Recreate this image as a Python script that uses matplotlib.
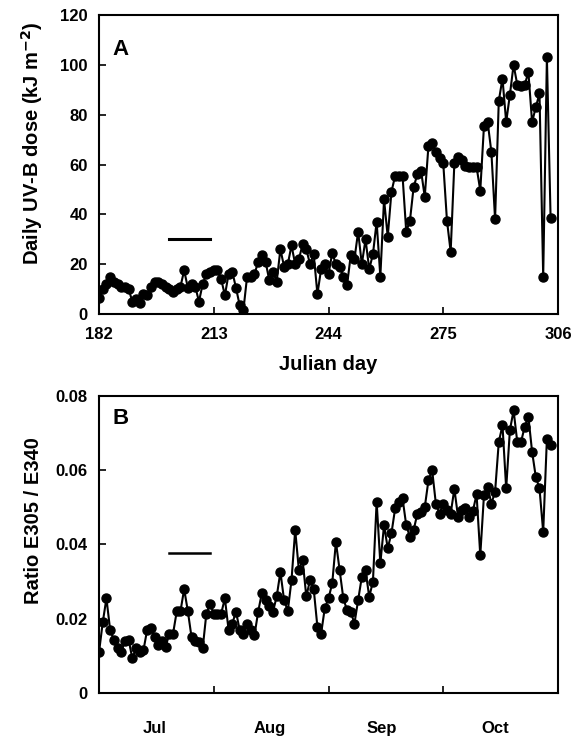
import numpy as np
import matplotlib
matplotlib.use('Agg')
import matplotlib.pyplot as plt

plt.rcParams['font.family'] = ['Liberation Sans', 'DejaVu Sans']
plt.rcParams['font.weight'] = 'bold'

# julian days 182..304
days = np.arange(182, 305)

uvb_dose = [
    6.5, 10, 12, 15, 13, 12, 11, 11, 10, 5,
    6, 4.5, 8, 7.5, 11, 13, 13, 12, 11, 10,
    9, 10, 11, 17.5, 10.5, 12, 11, 5, 12, 16,
    17, 17.5, 17.5, 14, 7.5, 16, 17, 10.5, 3.5, 1.5,
    15, 15, 16, 21, 23.5, 21, 13.5, 17, 13, 26,
    19, 20, 27.5, 20, 22, 28, 26, 20, 24, 8,
    18, 20, 16, 24.5, 20, 19, 15, 11.5, 23.5, 22,
    33, 20, 30, 18, 24, 37, 15, 46, 31, 49,
    55.5, 55.5, 55.5, 33, 37.5, 51, 56, 57.5, 47, 67.5,
    68.5, 65, 62.5, 60.5, 37.5, 25, 60.5, 63, 62, 59.5,
    59, 59, 59, 49.5, 75.5, 77, 65, 38, 85.5, 94.5,
    77, 88, 100, 92, 91.5, 92, 97, 77, 83, 88.5,
    15, 103, 38.5,
]

ratio = [
    0.011, 0.019, 0.0255, 0.017, 0.0143, 0.012, 0.011, 0.014, 0.0143, 0.0093,
    0.012, 0.011, 0.0115, 0.017, 0.0174, 0.015, 0.013, 0.014, 0.0125, 0.016,
    0.016, 0.022, 0.022, 0.028, 0.022, 0.015, 0.014, 0.0138, 0.012, 0.0214,
    0.024, 0.0214, 0.0214, 0.0214, 0.0255, 0.017, 0.0187, 0.0219, 0.017, 0.016,
    0.0187, 0.017, 0.0156, 0.0219, 0.027, 0.025, 0.0235, 0.0219, 0.026, 0.0326,
    0.025, 0.0221, 0.0304, 0.0439, 0.033, 0.0358, 0.026, 0.0304, 0.028, 0.0178,
    0.016, 0.0229, 0.0255, 0.0295, 0.0407, 0.0331, 0.0255, 0.0223, 0.0219, 0.0187,
    0.025, 0.0313, 0.033, 0.0259, 0.030, 0.0515, 0.0349, 0.0452, 0.039, 0.043,
    0.0497, 0.0515, 0.0524, 0.0452, 0.042, 0.0439, 0.0483, 0.0488, 0.050, 0.0573,
    0.060, 0.051, 0.0483, 0.051, 0.0492, 0.0483, 0.055, 0.0474, 0.0492, 0.0497,
    0.0474, 0.049, 0.0535, 0.0371, 0.0533, 0.0555, 0.051, 0.0542, 0.0676, 0.0721,
    0.0551, 0.0708, 0.0761, 0.0676, 0.0676, 0.0717, 0.0744, 0.065, 0.0582, 0.0551,
    0.0434, 0.0685, 0.0667,
]

# period marker bars
bar_days = [201, 212]
bar_a = 30
bar_b = 0.0377

month_pos = [197, 228, 258.5, 289]
month_names = ['Jul', 'Aug', 'Sep', 'Oct']
month_edges = [213, 244, 275]

fig = plt.figure(figsize=(5.87, 7.38), dpi=100)
ax1 = fig.add_axes([0.1687, 0.5745, 0.7819, 0.4052])
ax2 = fig.add_axes([0.1687, 0.0610, 0.7819, 0.4024])

style = dict(color='black', lw=1.5, marker='o', ms=6.5, mfc='black', mec='black')

ax1.plot(days, uvb_dose, **style)
ax1.plot(bar_days, [bar_a, bar_a], color='black', lw=2.2)
ax1.set_xlim(182, 306)
ax1.set_ylim(0, 120)
ax1.set_xticks([182, 213, 244, 275, 306])
ax1.set_yticks(range(0, 121, 20))
ax1.set_xlabel('Julian day', fontsize=14.5, fontweight='bold', labelpad=10)
ax1.set_ylabel('Daily UV-B dose (kJ m$^{\\mathbf{-2}}$)', fontsize=14.5,
               fontweight='bold')
ax1.yaxis.set_label_coords(-0.118, 0.57)
ax1.text(0.03, 0.866, 'A', transform=ax1.transAxes, fontsize=16, fontweight='bold')
ax1.tick_params(axis='x', pad=9)

ax2.plot(days, ratio, **style)
ax2.plot(bar_days, [bar_b, bar_b], color='black', lw=1.8)
ax2.set_xlim(182, 306)
ax2.set_ylim(0, 0.08)
ax2.set_yticks([0, 0.02, 0.04, 0.06, 0.08])
ax2.set_yticklabels(['0', '0.02', '0.04', '0.06', '0.08'])
ax2.set_xticks(month_edges)
ax2.set_xticklabels([])
ax2.set_xticks(month_pos, minor=True)
ax2.set_xticklabels(month_names, minor=True)
ax2.tick_params(axis='x', which='minor', length=0, pad=20, labelsize=12)
ax2.set_ylabel('Ratio E305 / E340', fontsize=14.5, fontweight='bold')
ax2.yaxis.set_label_coords(-0.122, 0.58)
ax2.text(0.03, 0.905, 'B', transform=ax2.transAxes, fontsize=16, fontweight='bold')

for ax in (ax1, ax2):
    for sp in ax.spines.values():
        sp.set_linewidth(1.5)
    ax.tick_params(which='major', direction='in', length=5, width=1.2,
                   labelsize=12, top=False, right=False)
    ax.tick_params(axis='y', pad=8)
    for lab in ax.get_xticklabels(which='both') + ax.get_yticklabels():
        lab.set_fontweight('bold')

fig.savefig('out.png', dpi=100)
